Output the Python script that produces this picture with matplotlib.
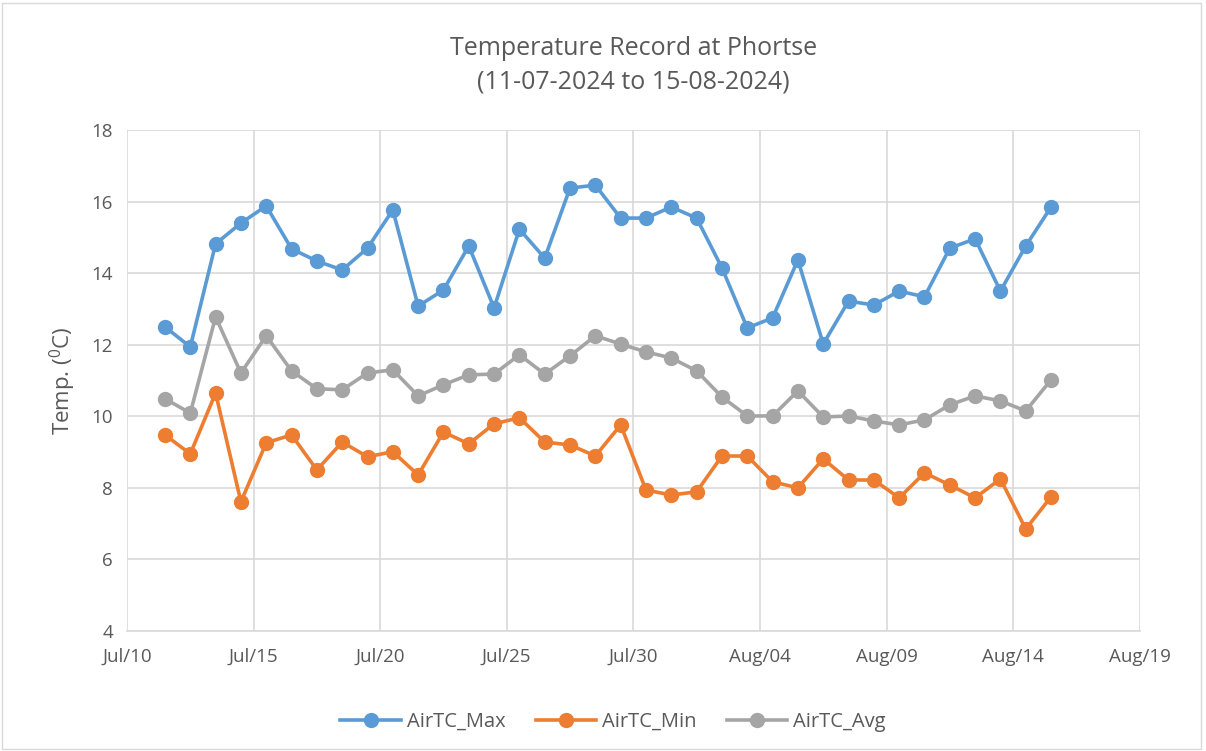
import matplotlib
matplotlib.use("Agg")
from matplotlib import pyplot as plt
import matplotlib.dates as mdates
import pandas as pd

plt.rcParams['font.family'] = ['Open Sans', 'DejaVu Sans']

dates = pd.date_range("2024-07-11", "2024-08-15", freq="D")

air_max = [12.50, 11.94, 14.82, 15.40, 15.88, 14.68, 14.34, 14.09, 14.70, 15.77,
           13.08, 13.53, 14.76, 13.03, 15.23, 14.42, 16.38, 16.46, 15.54, 15.54,
           15.85, 15.54, 14.15, 12.47, 12.75, 14.37, 12.02, 13.22, 13.11, 13.50,
           13.34, 14.70, 14.96, 13.50, 14.76, 15.85]
air_min = [9.48, 8.95, 10.65, 7.61, 9.26, 9.48, 8.50, 9.28, 8.87, 9.01,
           8.36, 9.56, 9.23, 9.79, 9.96, 9.28, 9.20, 8.89, 9.76, 7.94,
           7.80, 7.89, 8.89, 8.89, 8.17, 8.00, 8.81, 8.22, 8.22, 7.72,
           8.42, 8.08, 7.72, 8.25, 6.85, 7.75]
air_avg = [10.49, 10.09, 12.78, 11.21, 12.25, 11.27, 10.77, 10.74, 11.21, 11.30,
           10.57, 10.88, 11.16, 11.18, 11.72, 11.18, 11.69, 12.25, 12.02, 11.80,
           11.63, 11.27, 10.54, 10.01, 10.01, 10.71, 9.98, 10.01, 9.87, 9.76,
           9.90, 10.32, 10.57, 10.43, 10.15, 11.02]

# excel draws the points in the middle of the day
x = dates + pd.Timedelta(hours=12)

fig = plt.figure(figsize=(12.06, 7.51), dpi=100)
ax = fig.add_axes([0.1053, 0.1598, 0.8397, 0.667])

ax.plot(x, air_max, '-o', color='#5B9BD5', lw=2.6, ms=10, label='AirTC_Max')
ax.plot(x, air_min, '-o', color='#ED7D31', lw=2.6, ms=10, label='AirTC_Min')
ax.plot(x, air_avg, '-o', color='#A5A5A5', lw=2.6, ms=10, label='AirTC_Avg')

ax.set_ylim(4, 18)
ax.set_yticks(range(4, 19, 2))
ax.set_xlim(pd.Timestamp("2024-07-10"), pd.Timestamp("2024-08-19"))
ax.set_xticks(pd.date_range("2024-07-10", "2024-08-19", freq="5D"))
ax.xaxis.set_major_formatter(mdates.DateFormatter("%b/%d"))

ax.grid(True, color='#D9D9D9', lw=1.2)
ax.set_axisbelow(True)
for s in ['top', 'right', 'left']:
    ax.spines[s].set_visible(False)
ax.spines['bottom'].set_color('#D9D9D9')
ax.spines['bottom'].set_linewidth(1.2)
ax.tick_params(length=0, labelsize=13.5, colors='#595959', pad=12)
ax.tick_params(axis='y', pad=10)

ax.set_ylabel('Temp. ($\\mathregular{^0}$C)', fontsize=16, color='#595959', labelpad=10)
ax.set_title("Temperature Record at Phortse\n(11-07-2024 to 15-08-2024)",
             fontsize=18, color='#595959', pad=30, linespacing=1.45)

ax.legend(loc='upper center', bbox_to_anchor=(0.48, -0.125), ncol=3, frameon=False,
          fontsize=14.5, labelcolor='#595959', handlelength=3.0, columnspacing=1.5,
          handletextpad=0.3)

fig.patches.append(plt.Rectangle((0.002, 0.002), 0.994, 0.994, transform=fig.transFigure,
                                 fill=False, edgecolor='#D9D9D9', lw=1))

fig.savefig("out.png", dpi=100)
